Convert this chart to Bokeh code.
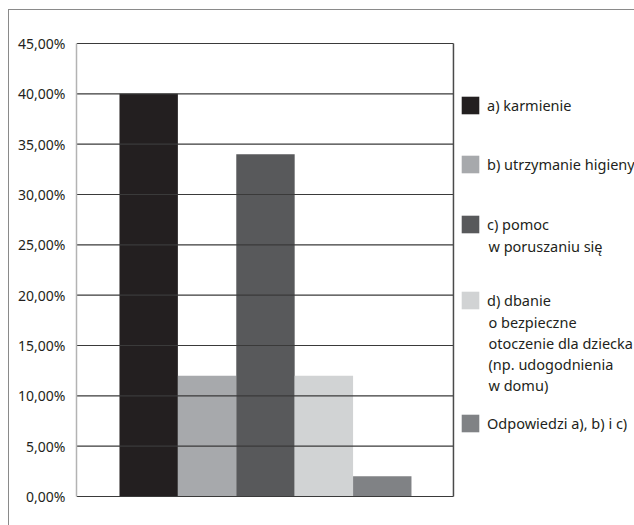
from bokeh.plotting import figure
from bokeh.models import FixedTicker, Legend, LegendItem, Label, Range1d, InlineStyleSheet
from bokeh.embed import file_html
from bokeh.resources import INLINE

# ---- data ----
series_labels = [
    "a) karmienie",
    "b) utrzymanie higieny",
    "c) pomoc\nw poruszaniu się",
    "d) dbanie\no bezpieczne\notoczenie dla dziecka\n(np. udogodnienia\nw domu)",
    "Odpowiedzi a), b) i c)",
]
series_values = [40, 12, 34, 12, 2]
series_colors = ["#231f20", "#a7a9ac", "#58595b", "#d1d3d4", "#808285"]
y_ticks = [0, 5, 10, 15, 20, 25, 30, 35, 40, 45]
y_tick_labels = ["0,00%", "5,00%", "10,00%", "15,00%", "20,00%", "25,00%",
                 "30,00%", "35,00%", "40,00%", "45,00%"]

FONT = "Noto Sans"
FS = "14px"
LFS = "14.5px"
TXT = "#231f20"

# plot area spans x from X0 to X1 (data units); legend lives to its right
X0, X1, XEND = -0.236, 6.219, 9.319
Y0, Y1 = 0, 45

p = figure(width=634, height=525, output_backend="svg", toolbar_location=None,
           x_range=Range1d(X0, XEND), y_range=Range1d(-0.1, 45.1),
           min_border_left=76, min_border_right=0, min_border_top=42,
           min_border_bottom=28)
p.background_fill_color = "white"
p.border_fill_alpha = 0
p.outline_line_color = None
# outer frame of the page: only its left and top edges fall inside the window
p.stylesheets = [InlineStyleSheet(css=(
    ":host { background: "
    "linear-gradient(#8a8a8a,#8a8a8a) 8px 9px / 1px 100% no-repeat, "
    "linear-gradient(#8a8a8a,#8a8a8a) 8px 9px / 100% 1px no-repeat, white; }"))]

p.xaxis.visible = False
p.grid.visible = False

ya = p.yaxis[0]
ya.ticker = FixedTicker(ticks=y_ticks)
ya.bounds = (Y0, Y1)
ya.major_label_overrides = {t: l for t, l in zip(y_ticks, y_tick_labels)}
ya.axis_line_color = "#b3b3b3"
ya.axis_line_width = 1.5
ya.major_tick_line_color = None
ya.minor_tick_line_color = None
ya.major_label_standoff = 5
ya.major_label_text_font = FONT
ya.major_label_text_font_size = FS
ya.major_label_text_color = TXT

renderers = []
for i, (v, c) in enumerate(zip(series_values, series_colors)):
    r = p.vbar(x=[i + 1], top=[v], bottom=0, width=1.0, fill_color=c, line_color=None)
    renderers.append(r)

# horizontal grid lines (drawn over the bars) and right border of the plot area
p.segment(x0=[X0] * len(y_ticks), x1=[X1] * len(y_ticks), y0=y_ticks, y1=y_ticks,
          line_color="#3a3a3a", line_width=1.2)
p.segment(x0=[X1], x1=[X1], y0=[Y0], y1=[Y1], line_color="#4a4a4a", line_width=1.5)

# legend layout (window px, top of each swatch)
sw_tops = [94, 153, 213, 289, 412]
frame_left = 76
frame_bottom = 497
for r, lab, top in zip(renderers, series_labels, sw_tops):
    lines = lab.split("\n")
    leg = Legend(items=[LegendItem(label=lines[0], renderers=[r])],
                 location=(459 - frame_left, frame_bottom - (top + 22)),
                 glyph_width=22, glyph_height=22, label_height=22,
                 label_standoff=6, padding=0, margin=0, spacing=0,
                 border_line_color=None, background_fill_alpha=0,
                 label_text_font=FONT, label_text_font_size=LFS,
                 label_text_color=TXT, label_text_baseline="middle")
    p.add_layout(leg, "center")
    if len(lines) > 1:
        text_top = top + 22
        lbl = Label(x=488 - frame_left, y=frame_bottom - text_top,
                    x_units="screen", y_units="screen",
                    text="\n".join(lines[1:]), text_font=FONT,
                    text_font_size=LFS, text_color=TXT, text_baseline="top",
                    text_line_height=1.06)
        p.add_layout(lbl)

open("out.html", "w").write(file_html(p, INLINE))
